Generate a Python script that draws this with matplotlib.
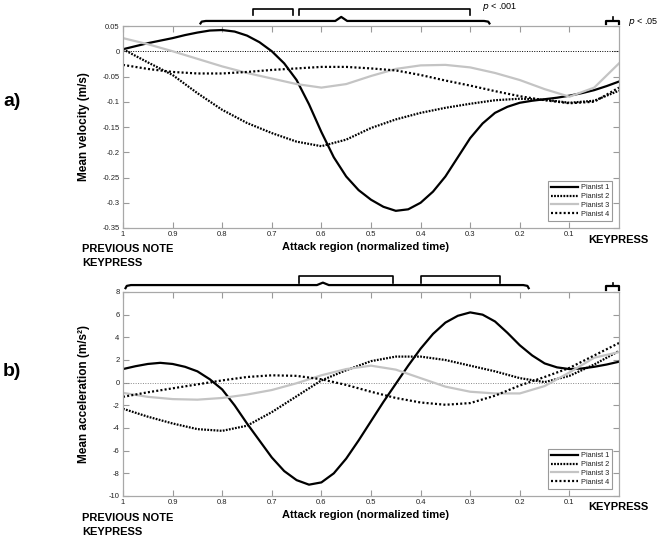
import numpy as np
import matplotlib
matplotlib.use("Agg")
import matplotlib.pyplot as plt
import matplotlib.transforms as mtransforms

plt.rcParams['font.family'] = ['Liberation Sans', 'DejaVu Sans']
plt.rcParams['axes.unicode_minus'] = False

# --- data ---
# common time grid (normalized, 1 -> 0), step 0.05
t = [1.0, 0.95, 0.9, 0.85, 0.8, 0.75, 0.7, 0.65, 0.6, 0.55, 0.5,
     0.45, 0.4, 0.35, 0.3, 0.25, 0.2, 0.15, 0.1, 0.05, 0.0]
# finer grid for pianist 1, step 0.025
t_fine = [1.0, 0.975, 0.95, 0.925, 0.9, 0.875, 0.85, 0.825, 0.8, 0.775, 0.75,
          0.725, 0.7, 0.675, 0.65, 0.625, 0.6, 0.575, 0.55, 0.525, 0.5,
          0.475, 0.45, 0.425, 0.4, 0.375, 0.35, 0.325, 0.3, 0.275, 0.25,
          0.225, 0.2, 0.175, 0.15, 0.125, 0.1, 0.075, 0.05, 0.025, 0.0]

vel_p1 = [0.004, 0.010, 0.016, 0.021, 0.026, 0.032, 0.037, 0.041, 0.042, 0.039, 0.031,
          0.018, 0.000, -0.024, -0.057, -0.105, -0.160, -0.210, -0.248, -0.275, -0.294,
          -0.308, -0.316, -0.313, -0.300, -0.278, -0.248, -0.210, -0.172, -0.143, -0.122,
          -0.110, -0.102, -0.098, -0.095, -0.092, -0.088, -0.083, -0.077, -0.069, -0.060]
vel_p2 = [0.004, -0.022, -0.047, -0.083, -0.116, -0.142, -0.162, -0.179, -0.188, -0.175, -0.152,
          -0.135, -0.122, -0.112, -0.104, -0.097, -0.094, -0.096, -0.102, -0.098, -0.078]
vel_p3 = [0.026, 0.014, 0.000, -0.015, -0.030, -0.043, -0.054, -0.065, -0.072, -0.065, -0.049,
          -0.035, -0.028, -0.027, -0.032, -0.043, -0.057, -0.075, -0.090, -0.072, -0.024]
vel_p4 = [-0.027, -0.035, -0.041, -0.044, -0.044, -0.041, -0.037, -0.034, -0.031, -0.031, -0.034,
          -0.038, -0.047, -0.058, -0.068, -0.079, -0.089, -0.097, -0.103, -0.100, -0.072]

acc_p1 = [1.2, 1.45, 1.65, 1.75, 1.65, 1.4, 1.0, 0.3, -0.6, -2.0, -3.6,
          -5.1, -6.6, -7.8, -8.6, -9.0, -8.8, -8.0, -6.7, -5.1, -3.4,
          -1.7, -0.1, 1.5, 3.0, 4.3, 5.3, 5.9, 6.2, 6.0, 5.4,
          4.4, 3.3, 2.4, 1.7, 1.35, 1.2, 1.25, 1.4, 1.6, 1.85]
acc_p2 = [-2.3, -3.0, -3.6, -4.1, -4.25, -3.8, -2.6, -1.2, 0.2, 1.1, 1.9,
          2.3, 2.3, 2.0, 1.5, 1.0, 0.4, 0.05, 0.6, 1.6, 2.8]
acc_p3 = [-0.9, -1.25, -1.45, -1.5, -1.35, -1.05, -0.65, -0.05, 0.65, 1.2, 1.5,
          1.15, 0.4, -0.35, -0.8, -0.95, -0.95, -0.3, 0.9, 2.2, 2.7]
acc_p4 = [-1.25, -0.85, -0.5, -0.15, 0.2, 0.5, 0.65, 0.6, 0.3, -0.2, -0.8,
          -1.35, -1.75, -1.95, -1.8, -1.15, -0.25, 0.5, 1.3, 2.4, 3.5]

labels = ["Pianist 1", "Pianist 2", "Pianist 3", "Pianist 4"]
xticks = [1, 0.9, 0.8, 0.7, 0.6, 0.5, 0.4, 0.3, 0.2, 0.1]
xticklabels = ["1", "0.9", "0.8", "0.7", "0.6", "0.5", "0.4", "0.3", "0.2", "0.1"]
vel_ticks = [0.05, 0, -0.05, -0.1, -0.15, -0.2, -0.25, -0.3, -0.35]
vel_ticklabels = ["0.05", "0", "-0.05", "-0.1", "-0.15", "-0.2", "-0.25", "-0.3", "-0.35"]
acc_ticks = [8, 6, 4, 2, 0, -2, -4, -6, -8, -10]

# significance brackets (x in normalized time)
top_brace = (0.845, 0.56, 0.26)
top_squares = [(0.738, 0.657), (0.645, 0.300)]
bot_brace = (0.996, 0.597, 0.181)
bot_squares = [(0.645, 0.456), (0.399, 0.240)]
small_brace = (0.026, 0.0)

W, H = 662, 537
fig = plt.figure(figsize=(W / 100, H / 100), dpi=100)

styles = [dict(color="black", lw=1.6, ls="-"),
          dict(color="black", lw=1.6, ls=(0, (0.8, 0.6))),
          dict(color="#c4c4c4", lw=1.6, ls="-"),
          dict(color="black", lw=1.6, ls=(0, (0.9, 1.0)))]


def setup_axes(ax, yticks, yticklabels, ylim):
    ax.set_xlim(1, 0)
    ax.set_ylim(*ylim)
    ax.set_xticks(xticks)
    ax.set_xticklabels(xticklabels)
    ax.set_yticks(yticks)
    ax.set_yticklabels(yticklabels)
    ax.tick_params(direction="in", length=4, width=0.8, color="#9a9a9a",
                   labelsize=5.5, labelcolor="#222222", top=True, right=True, pad=2.5)
    for s in ax.spines.values():
        s.set_color("#a8a8a8")
        s.set_linewidth(0.9)


def brace(ax, x0, xm, x1, yl, ytip, yend, lw=1.6):
    tr = mtransforms.blended_transform_factory(ax.transData, ax.transAxes)
    r = 0.012
    xs = [x0, x0 - r * 0.3, x0 - r, xm + r, xm, xm - r, x1 + r, x1 + r * 0.3, x1]
    ys = [yend, yl - (yl - yend) * 0.2, yl, yl, ytip, yl, yl, yl - (yl - yend) * 0.2, yend]
    ax.plot(xs, ys, color="black", lw=lw, transform=tr, clip_on=False,
            solid_joinstyle="round", solid_capstyle="butt")


def square(ax, x0, x1, ytop, yleg):
    tr = mtransforms.blended_transform_factory(ax.transData, ax.transAxes)
    ax.plot([x0, x0, x1, x1], [yleg, ytop, ytop, yleg], color="black", lw=1.2,
            transform=tr, clip_on=False)


def small(ax, x0, x1, yl, ytip, yleg):
    tr = mtransforms.blended_transform_factory(ax.transData, ax.transAxes)
    xm = (x0 + x1) / 2
    ax.plot([x0, x0, x1, x1], [yleg, yl, yl, yleg], color="black", lw=1.6,
            transform=tr, clip_on=False)
    ax.plot([xm, xm], [yl, ytip], color="black", lw=1.2, transform=tr, clip_on=False)


# ---------------- a) velocity ----------------
ax1 = fig.add_axes([123 / W, 1 - 228 / H, 496 / W, 202 / H])
ax1.axhline(0, color="black", lw=0.7, ls=(0, (1, 1.5)))
for y, x, lab, st in zip([vel_p1, vel_p2, vel_p3, vel_p4], [t_fine, t, t, t], labels, styles):
    ax1.plot(x, y, label=lab, **st)
setup_axes(ax1, vel_ticks, vel_ticklabels, (-0.35, 0.05))
ax1.set_ylabel("Mean velocity (m/s)", fontsize=8.5, fontweight="bold")
ax1.yaxis.set_label_coords(-0.066, 0.5)

brace(ax1, top_brace[0], top_brace[1], top_brace[2], 1.025, 1.045, 1.008)
for a, b in top_squares:
    square(ax1, a, b, 1.084, 1.054)
small(ax1, small_brace[0], small_brace[1], 1.025, 1.045, 1.008)

# ---------------- b) acceleration ----------------
ax2 = fig.add_axes([123 / W, 1 - 496 / H, 496 / W, 204 / H])
ax2.axhline(0, color="#888888", lw=0.7, ls=(0, (1, 1.5)))
for y, x, lab, st in zip([acc_p1, acc_p2, acc_p3, acc_p4], [t_fine, t, t, t], labels, styles):
    ax2.plot(x, y, label=lab, **st)
setup_axes(ax2, acc_ticks, [str(v) for v in acc_ticks], (-10, 8))
ax2.set_ylabel("Mean acceleration (m/s²)", fontsize=8.5, fontweight="bold")
ax2.yaxis.set_label_coords(-0.066, 0.5)

brace(ax2, bot_brace[0], bot_brace[1], bot_brace[2], 1.034, 1.046, 1.014)
for a, b in bot_squares:
    square(ax2, a, b, 1.078, 1.044)
small(ax2, small_brace[0], small_brace[1], 1.029, 1.046, 1.01)

for ax in (ax1, ax2):
    leg = ax.legend(loc="lower right", fontsize=5.3, handlelength=3.6, handletextpad=0.4,
                    labelspacing=0.25, borderpad=0.45, fancybox=False, framealpha=1,
                    borderaxespad=0.9, edgecolor="#9a9a9a")
    leg.get_frame().set_linewidth(0.8)
    for txt in leg.get_texts():
        txt.set_color("#222222")

# text annotations in figure pixel positions
def ftext(x, y, s, **kw):
    fig.text(x / W, 1 - y / H, s, **kw)

ftext(3, 102, "a)", fontsize=14, fontweight="bold", va="center", ha="left")
ftext(3, 372, "b)", fontsize=14, fontweight="bold", va="center", ha="left")

ftext(365, 247, "Attack region (normalized time)", fontsize=8, fontweight="bold", ha="center", va="center")
ftext(365, 515, "Attack region (normalized time)", fontsize=8, fontweight="bold", ha="center", va="center")
ftext(82, 256, "PREVIOUS NOTE\nKEYPRESS", fontsize=8, fontweight="bold", ha="left", va="center",
      linespacing=1.4)
ftext(82, 525, "PREVIOUS NOTE\nKEYPRESS", fontsize=8, fontweight="bold", ha="left", va="center",
      linespacing=1.4)
ftext(588, 240, "KEYPRESS", fontsize=8, fontweight="bold", ha="left", va="center")
ftext(588, 507, "KEYPRESS", fontsize=8, fontweight="bold", ha="left", va="center")

ftext(482, 7, "$p$ < .001", fontsize=6.5, ha="left", va="center")
ftext(628, 22, "$p$ < .05", fontsize=6.5, ha="left", va="center")

fig.savefig("out.png", dpi=100)
